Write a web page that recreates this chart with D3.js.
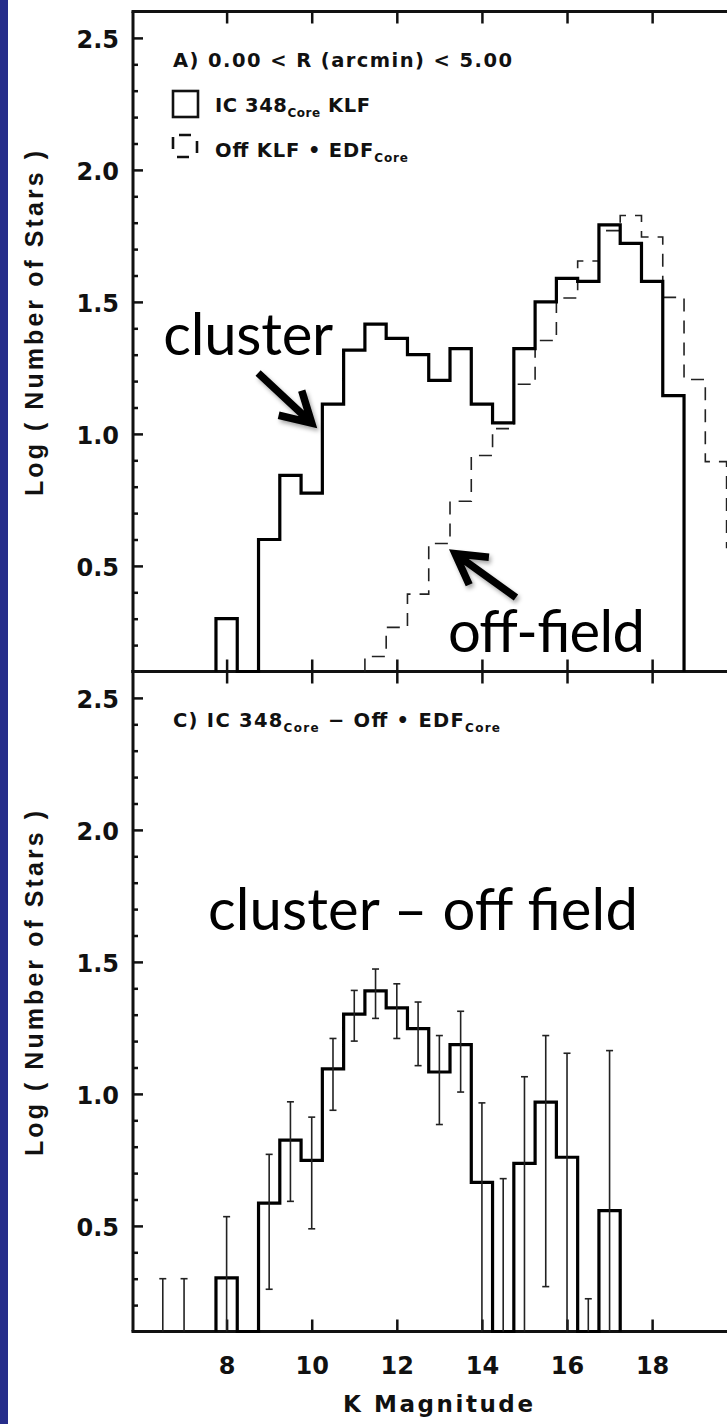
<!DOCTYPE html>
<html>
<head>
<meta charset="utf-8">
<script src="https://cdn.jsdelivr.net/npm/d3@7/dist/d3.min.js"></script>
<style>
  body { margin: 0; background: #fff; }
  svg { display: block; }
  .tick text { font-family: "DejaVu Sans", sans-serif; font-weight: bold; fill: #111; }
</style>
</head>
<body>
<svg id="chart" width="727" height="1424"></svg>
<script>
// bins are 0.5 mag wide, values are log10(N)
var binW = 0.5;

// A) IC 348 core KLF (solid)
var coreMag = [8.0, 8.5, 9.0, 9.5, 10.0, 10.5, 11.0, 11.5, 12.0, 12.5, 13.0, 13.5, 14.0, 14.5, 15.0, 15.5, 16.0, 16.5, 17.0, 17.5, 18.0, 18.5];
var coreLog = [0.30, null, 0.60, 0.843, 0.776, 1.113, 1.317, 1.416, 1.362, 1.300, 1.203, 1.323, 1.113, 1.042, 1.323, 1.500, 1.589, 1.578, 1.792, 1.722, 1.578, 1.145];

// off field KLF * EDF (dashed)
var offMag = [11.5, 12.0, 12.5, 13.0, 13.5, 14.0, 14.5, 15.0, 15.5, 16.0, 16.5, 17.0, 17.5, 18.0, 18.5, 19.0, 19.5, 20.0];
var offLog = [0.157, 0.267, 0.393, 0.585, 0.745, 0.918, 1.02, 1.188, 1.354, 1.515, 1.655, 1.77, 1.827, 1.746, 1.517, 1.206, 0.895, 0.57];

// C) core - off (solid with error bars)
var diffMag = [8.0, 8.5, 9.0, 9.5, 10.0, 10.5, 11.0, 11.5, 12.0, 12.5, 13.0, 13.5, 14.0, 14.5, 15.0, 15.5, 16.0, 16.5, 17.0];
var diffLog = [0.303, null, 0.586, 0.825, 0.748, 1.095, 1.302, 1.39, 1.326, 1.247, 1.083, 1.187, 0.665, null, 0.737, 0.969, 0.76, null, 0.558];

var errMag = [6.5, 7.0, 8.0, 9.0, 9.5, 10.0, 10.5, 11.0, 11.5, 12.0, 12.5, 13.0, 13.5, 14.0, 14.5, 15.0, 15.5, 16.0, 16.5, 17.0];
var errLo  = [null, null, null, 0.26, 0.593, 0.489, 0.938, 1.20, 1.286, 1.21, 1.107, 0.884, 1.007, null, null, null, 0.27, null, null, null];
var errHi  = [0.30, 0.30, 0.535, 0.771, 0.97, 0.912, 1.21, 1.392, 1.473, 1.417, 1.348, 1.221, 1.313, 0.966, 0.679, 1.065, 1.221, 1.154, 0.224, 1.164];

var yMajor = [0.5, 1.0, 1.5, 2.0, 2.5];
var yMinor = [0.2, 0.3, 0.4, 0.6, 0.7, 0.8, 0.9, 1.1, 1.2, 1.3, 1.4, 1.6, 1.7, 1.8, 1.9, 2.1, 2.2, 2.3, 2.4];
var xMajor = [8, 10, 12, 14, 16, 18];

var svg = d3.select("#chart");

// scales
var x = d3.scaleLinear().domain([5.8, 20.5]).range([133, 758.5]);
var yA = d3.scaleLinear().domain([0.1, 2.6]).range([671.5, 11.5]);
var yC = d3.scaleLinear().domain([0.1, 2.6]).range([1331.5, 671.5]);

// blue slide border on the left
svg.append("rect").attr("x", 0).attr("y", 0).attr("width", 8).attr("height", 1424).attr("fill", "#262d8a");

// shadow for the arrows
var defs = svg.append("defs");
var f = defs.append("filter").attr("id", "shadow").attr("x", "-30%").attr("y", "-30%").attr("width", "160%").attr("height", "160%");
f.append("feDropShadow").attr("dx", 2).attr("dy", 3).attr("stdDeviation", 2).attr("flood-color", "#000").attr("flood-opacity", 0.35);

function stepPoints(mags, vals) {
  var pts = [[mags[0] - binW / 2, 0.1]];
  mags.forEach(function(m, i) {
    var v = vals[i] == null ? 0.1 : vals[i];
    pts.push([m - binW / 2, v]);
    pts.push([m + binW / 2, v]);
  });
  pts.push([mags[mags.length - 1] + binW / 2, 0.1]);
  return pts;
}

function drawAxes(y, showX) {
  var g = svg.append("g");
  // y major
  var ya = g.append("g").attr("transform", "translate(133,0)")
    .call(d3.axisLeft(y).tickValues(yMajor).tickSize(-10).tickPadding(14).tickFormat(d3.format(".1f")));
  ya.select(".domain").remove();
  ya.selectAll(".tick line").attr("stroke-width", 2.5).attr("stroke", "#111");
  ya.selectAll(".tick text").attr("font-size", 24).attr("dy", "0.38em");
  // y minor
  var ym = g.append("g").attr("transform", "translate(133,0)")
    .call(d3.axisLeft(y).tickValues(yMinor).tickSize(-5).tickFormat(""));
  ym.select(".domain").remove();
  ym.selectAll(".tick line").attr("stroke-width", 2.5).attr("stroke", "#111");
  // top axis ticks (pointing down)
  var xt = g.append("g").attr("transform", "translate(0," + y.range()[1] + ")")
    .call(d3.axisTop(x).tickValues(xMajor).tickSize(-12).tickFormat(""));
  xt.select(".domain").remove();
  xt.selectAll(".tick line").attr("stroke-width", 2.5).attr("stroke", "#111");
  // bottom axis ticks (pointing up)
  var xb = g.append("g").attr("transform", "translate(0," + y.range()[0] + ")")
    .call(d3.axisBottom(x).tickValues(xMajor).tickSize(-12).tickPadding(25)
      .tickFormat(showX ? d3.format("d") : ""));
  xb.select(".domain").remove();
  xb.selectAll(".tick line").attr("stroke-width", 2.5).attr("stroke", "#111");
  xb.selectAll(".tick text").attr("font-size", 24);
  // frame
  g.append("line").attr("x1", 133).attr("x2", 133).attr("y1", y.range()[1]).attr("y2", y.range()[0])
    .attr("stroke", "#111").attr("stroke-width", 3);
  [y.range()[0], y.range()[1]].forEach(function(yy) {
    g.append("line").attr("x1", 131.5).attr("x2", 760).attr("y1", yy).attr("y2", yy)
      .attr("stroke", "#111").attr("stroke-width", 3);
  });
  // y title
  g.append("text")
    .attr("transform", "translate(43," + (y.range()[1] + 312) + ") rotate(-90)")
    .attr("text-anchor", "middle")
    .attr("font-family", "'Liberation Sans Narrow', 'Liberation Sans', sans-serif")
    .attr("font-weight", "bold")
    .attr("font-size", 25)
    .attr("fill", "#111")
    .attr("textLength", 345).attr("lengthAdjust", "spacing")
    .text("Log ( Number of Stars )");
}

drawAxes(yA, false);
drawAxes(yC, true);

svg.append("text").attr("x", 438).attr("y", 1412).attr("text-anchor", "middle")
  .attr("font-family", "DejaVu Sans, sans-serif").attr("font-weight", "bold")
  .attr("font-size", 23).attr("fill", "#111")
  .attr("textLength", 190).attr("lengthAdjust", "spacing")
  .text("K Magnitude");

// histograms
var lineA = d3.line().x(function(d) { return x(d[0]); }).y(function(d) { return yA(d[1]); });
var lineC = d3.line().x(function(d) { return x(d[0]); }).y(function(d) { return yC(d[1]); });

svg.append("path").attr("d", lineA(stepPoints(offMag, offLog)))
  .attr("fill", "none").attr("stroke", "#222").attr("stroke-width", 1.6)
  .attr("stroke-dasharray", "13,9");

svg.append("path").attr("d", lineA(stepPoints(coreMag, coreLog)))
  .attr("fill", "none").attr("stroke", "#000").attr("stroke-width", 3.2)
  .attr("stroke-linejoin", "miter");

svg.append("path").attr("d", lineC(stepPoints(diffMag, diffLog)))
  .attr("fill", "none").attr("stroke", "#000").attr("stroke-width", 3.2);

// error bars
var eb = svg.append("g").attr("stroke", "#222").attr("stroke-width", 1.6);
errMag.forEach(function(m, i) {
  var lo = errLo[i] == null ? 0.1 : errLo[i];
  var hi = errHi[i];
  eb.append("line").attr("x1", x(m)).attr("x2", x(m)).attr("y1", yC(lo)).attr("y2", yC(hi));
  eb.append("line").attr("x1", x(m) - 3.5).attr("x2", x(m) + 3.5).attr("y1", yC(hi)).attr("y2", yC(hi));
  if (errLo[i] != null) {
    eb.append("line").attr("x1", x(m) - 3.5).attr("x2", x(m) + 3.5).attr("y1", yC(lo)).attr("y2", yC(lo));
  }
});

// panel labels / legend
function label(px, py, parts, len) {
  var t = svg.append("text").attr("x", px).attr("y", py)
    .attr("font-family", "DejaVu Sans, sans-serif").attr("font-weight", "bold")
    .attr("font-size", 19.5).attr("fill", "#111");
  parts.forEach(function(p) {
    var s = t.append("tspan").text(p[0]);
    if (p[1]) s.attr("font-size", 12).attr("dy", 5);
    else if (p[2]) s.attr("dy", -5);
  });
  if (len) t.attr("textLength", len).attr("lengthAdjust", "spacing");
  return t;
}

label(173, 67, [["A) 0.00 < R (arcmin) < 5.00"]], 339);
svg.append("rect").attr("x", 173).attr("y", 91).attr("width", 25).attr("height", 26)
  .attr("fill", "none").attr("stroke", "#111").attr("stroke-width", 2.6);
label(215, 112, [["IC 348"], ["Core", true], [" KLF", false, true]], 155);
svg.append("path").attr("d", "M173,135 H197 V157 H173 Z")
  .attr("fill", "none").attr("stroke", "#111").attr("stroke-width", 2.6)
  .attr("stroke-dasharray", "12,12").attr("stroke-dashoffset", -6);
label(215, 157, [["Off KLF \u2022 EDF"], ["Core", true]], 193);

label(173, 727, [["C) IC 348"], ["Core", true], [" \u2212 Off \u2022 EDF", false, true], ["Core", true]], 327);

// annotations (slide overlay)
var annoFont = "Lato, 'Open Sans', sans-serif";
function anno(m, v, y, txt, len) {
  svg.append("text").attr("x", x(m)).attr("y", y(v))
    .attr("font-family", annoFont).attr("font-size", 58).attr("fill", "#000")
    .attr("textLength", len).attr("lengthAdjust", "spacing")
    .text(txt);
}
function arrow(m1, v1, m2, v2, y) {
  var x1 = x(m1), y1 = y(v1), x2 = x(m2), y2 = y(v2);
  var a = Math.atan2(y2 - y1, x2 - x1), L = 34, s = 0.52;
  var w1 = [x2 - L * Math.cos(a - s), y2 - L * Math.sin(a - s)];
  var w2 = [x2 - L * Math.cos(a + s), y2 - L * Math.sin(a + s)];
  svg.append("path")
    .attr("d", "M" + x1 + "," + y1 + "L" + (x2 - 3 * Math.cos(a)) + "," + (y2 - 3 * Math.sin(a)) +
      "M" + w1 + "L" + x2 + "," + y2 + "L" + w2)
    .attr("fill", "none").attr("stroke", "#000").attr("stroke-width", 7.5)
    .attr("stroke-linejoin", "miter").attr("filter", "url(#shadow)");
}

anno(6.51, 1.30, yA, "cluster", 170);
arrow(8.74, 1.231, 10.0, 1.041, yA);
anno(13.2, 0.175, yA, "off-field", 197);
arrow(14.80, 0.38, 13.37, 0.546, yA);
anno(7.56, 1.62, yC, "cluster \u2013 off field", 430);
</script>
</body>
</html>
